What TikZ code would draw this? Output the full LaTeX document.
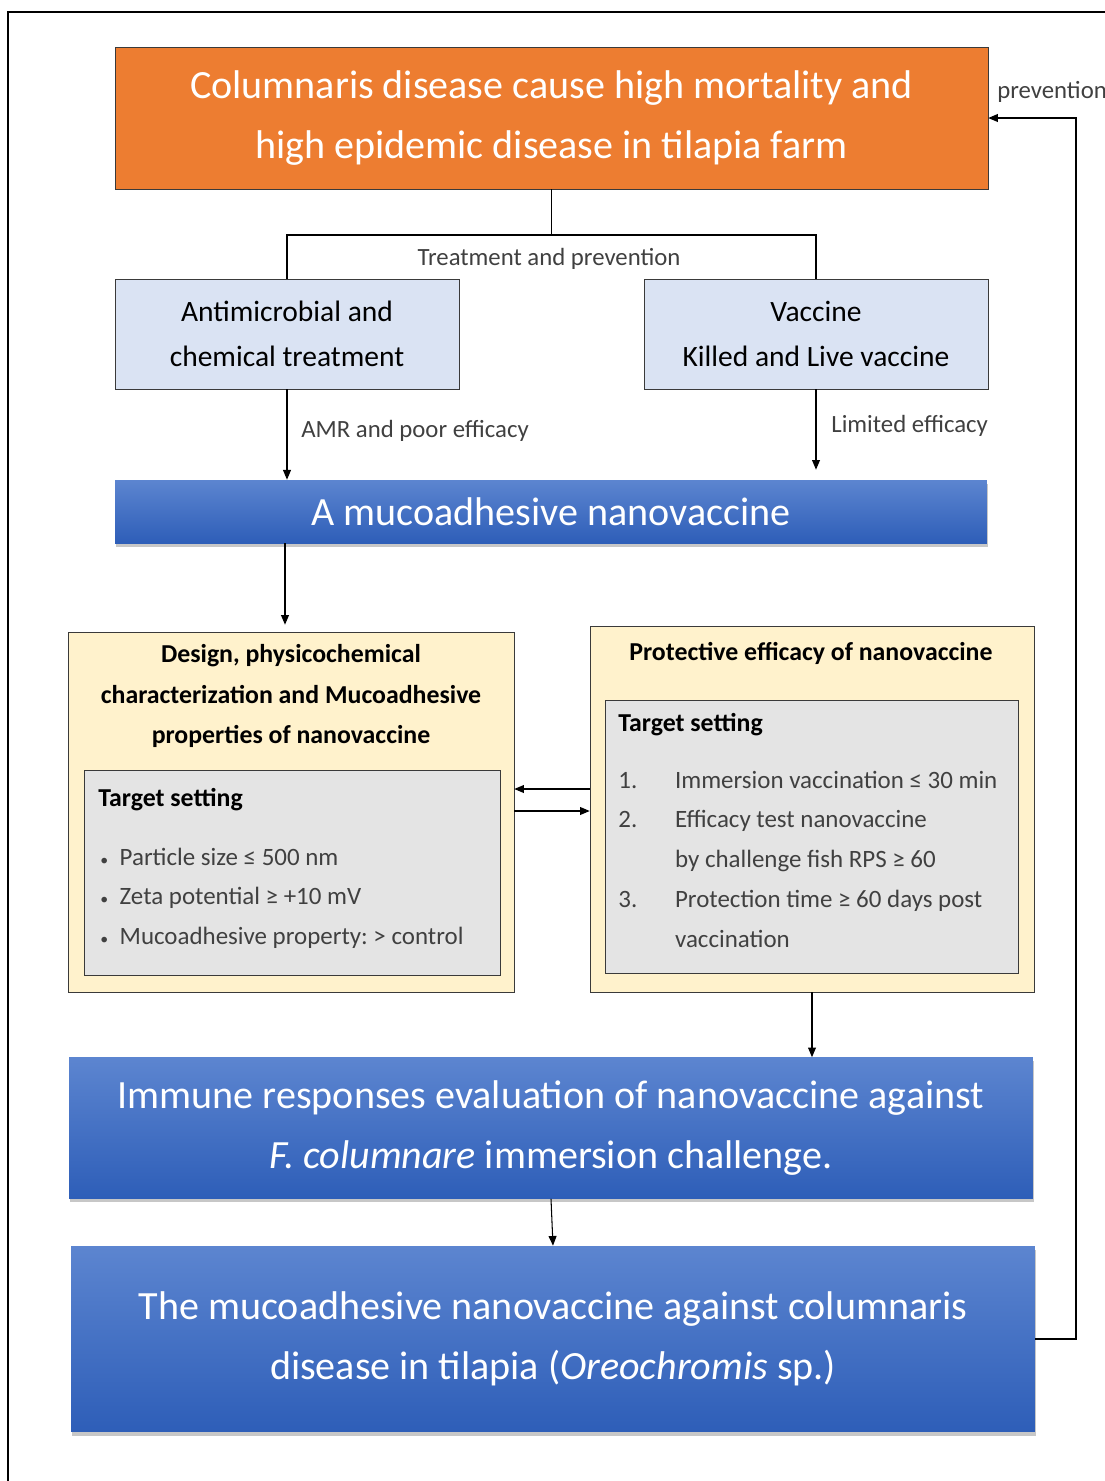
\documentclass[tikz,border=0pt]{standalone}
\usepackage{fontspec}
\setmainfont{Carlito}
\usetikzlibrary{arrows.meta,shadows}
\frenchspacing

\definecolor{orangebox}{HTML}{ED7D31}
\definecolor{paleblue}{HTML}{DAE3F3}
\definecolor{paleyellow}{HTML}{FFF2CC}
\definecolor{palegray}{HTML}{E4E4E4}
\definecolor{bluetop}{HTML}{5C85D0}
\definecolor{bluebot}{HTML}{2E5EB8}
\definecolor{edgegray}{HTML}{3A3A3A}
\definecolor{textgray}{HTML}{404040}

\begin{document}
\begin{tikzpicture}[x=0.02cm, y=-0.02cm]
	\tikzstyle{box_orange} = [draw=edgegray, fill=orangebox, text=white, align=center, inner sep=0pt, font=\fontsize{22.8}{34.6}\selectfont]
	\tikzstyle{box_pale} = [draw=edgegray, fill=paleblue, align=center, inner sep=0pt, font=\fontsize{16.8}{25.5}\selectfont]
	\tikzstyle{box_blue} = [top color=bluetop, bottom color=bluebot, text=white, align=center, inner sep=0pt, drop shadow={shadow xshift=0.6pt, shadow yshift=-2pt, opacity=0.22, fill=black}, font=\fontsize{22.8}{34.3}\selectfont]
	\tikzstyle{box_yellow} = [draw=edgegray, fill=paleyellow, inner sep=0pt]
	\tikzstyle{box_gray} = [draw=edgegray, fill=palegray, inner sep=0pt]
	\tikzstyle{title_text} = [align=center, font=\bfseries\fontsize{14.7}{23.2}\selectfont]
	\tikzstyle{head_text} = [anchor=west, inner sep=0pt, font=\bfseries\fontsize{14.7}{23}\selectfont]
	\tikzstyle{list_text} = [anchor=base west, inner sep=0pt, text=textgray, font=\fontsize{14.2}{22.7}\selectfont]
	\tikzstyle{edge_text} = [inner sep=0pt, text=textgray, font=\fontsize{14.1}{16}\selectfont]
	\tikzstyle{arr} = [-{Triangle[length=5.5pt,width=4.5pt]}, line width=0.6pt]
	\tikzstyle{line} = [line width=0.6pt]

	\useasboundingbox (0,0) rectangle (1105,1481);
	\draw[line width=0.8pt] (8,1500) -- (8,12) -- (1130,12);

%------------------------------------------------------------
	\node[box_orange, minimum width=17.46cm, minimum height=2.84cm] (disease) at (551.5,118)
		{Columnaris disease cause high mortality and\\high epidemic disease in tilapia farm};

	\node[box_pale, minimum width=6.88cm, minimum height=2.2cm] (treat) at (287,334)
		{Antimicrobial and\\chemical treatment};
	\node[box_pale, minimum width=6.88cm, minimum height=2.2cm] (vaccine) at (816,334)
		{Vaccine\\Killed and Live vaccine};

	\coordinate (split) at (551.5,235);
	\node[edge_text] (tplabel) at (549,259) {Treatment and prevention};

%------------------------------------------------------------
	\node[box_blue, minimum width=17.44cm, minimum height=1.26cm] (nano) at (551,511.5)
		{A mucoadhesive nanovaccine};

	\node[edge_text, anchor=west] (amrlabel) at (301,431) {AMR and poor efficacy};
	\node[edge_text, anchor=west] (limlabel) at (831,426) {Limited efficacy};

%------------------------------------------------------------
	\node[box_yellow, minimum width=8.92cm, minimum height=7.2cm] (design) at (291,812) {};
	\node[title_text] (designtitle) at (291,696)
		{Design, physicochemical\\characterization and Mucoadhesive\\properties of nanovaccine};
	\node[box_gray, minimum width=8.32cm, minimum height=4.1cm] (designtarget) at (292,872.5) {};
	\node[head_text] (designhead) at (98,800) {Target setting};
	\node[list_text] (designlist) at (100,865)
		{\begin{tabular}[t]{@{}p{11pt}@{}l@{}}
		{\small\textbullet} & Particle size ≤ 500 nm\\
		{\small\textbullet} & Zeta potential ≥ +10 mV\\
		{\small\textbullet} & Mucoadhesive property: > control
		\end{tabular}};

%------------------------------------------------------------
	\node[box_yellow, minimum width=8.88cm, minimum height=7.32cm] (protect) at (812,809) {};
	\node[title_text] (protecttitle) at (811,653) {Protective efficacy of nanovaccine};
	\node[box_gray, minimum width=8.26cm, minimum height=5.46cm] (protecttarget) at (811.5,836.5) {};
	\node[head_text] (protecthead) at (618,725) {Target setting};
	\node[list_text] (protectlist) at (618,788)
		{\begin{tabular}[t]{@{}p{32.3pt}@{}l@{}}
		1. & Immersion vaccination ≤ 30 min\\
		2. & Efficacy test nanovaccine\\
		   & by challenge fish RPS ≥ 60\\
		3. & Protection time ≥ 60 days post\\
		   & vaccination
		\end{tabular}};

%------------------------------------------------------------
	\node[box_blue, minimum width=19.28cm, minimum height=2.82cm] (immune) at (551,1128)
		{Immune responses evaluation of nanovaccine against\\\textit{F. columnare} immersion challenge.};
	\node[box_blue, minimum width=19.28cm, minimum height=3.72cm] (final) at (553,1339)
		{The mucoadhesive nanovaccine against columnaris\\disease in tilapia (\textit{Oreochromis} sp.)};

	\coordinate (loop) at (1076,118);
	\node[edge_text, anchor=west] (prevlabel) at (997,92) {prevention};

%------------------------------------------------------------
	\draw[line] (disease.south) -- (split);
	\draw[line] (treat.north) |- (split) -| (vaccine.north);
	\draw[arr] (treat.south) -- (treat.south |- nano.north);
	\draw[arr] (vaccine.south) -- ([yshift=0.2cm]vaccine.south |- nano.north);
	\draw[arr] (nano.south -| 285,0) -- ([yshift=0.14cm]design.north -| 285,0);
	\draw[arr] ([yshift=0.4cm]protect.west) -- ([yshift=0.4cm]protect.west -| design.east);
	\draw[arr] ([yshift=-0.04cm]design.east |- protect.west) -- ([yshift=-0.04cm]protect.west);
	\draw[arr] (protect.south) -- (protect.south |- immune.north);
	\draw[arr] (immune.south) -- (final.north);
	\draw[arr] (final.east) -| (loop) -- (disease.east);

\end{tikzpicture}
\end{document}
